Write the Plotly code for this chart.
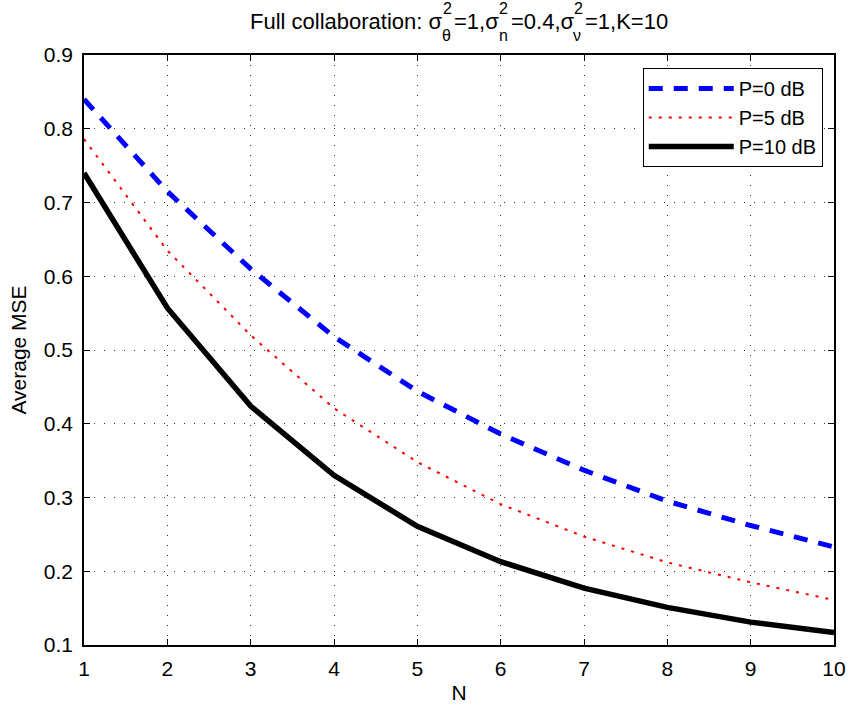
import plotly.graph_objects as go

# Number of sensors N and average MSE for each transmit power
n_values = [1, 2, 3, 4, 5, 6, 7, 8, 9, 10]
mse_p0 = [0.840, 0.715, 0.610, 0.518, 0.444, 0.386, 0.337, 0.295, 0.262, 0.233]
mse_p5 = [0.786, 0.635, 0.520, 0.421, 0.348, 0.291, 0.247, 0.212, 0.185, 0.161]
mse_p10 = [0.740, 0.557, 0.424, 0.330, 0.261, 0.213, 0.177, 0.151, 0.131, 0.117]

x_ticks = [1, 2, 3, 4, 5, 6, 7, 8, 9, 10]
y_ticks = [0.1, 0.2, 0.3, 0.4, 0.5, 0.6, 0.7, 0.8, 0.9]

FONT = "Liberation Sans, Arial, Helvetica, sans-serif"
W, H = 848, 708
ML, MR, MT, MB = 84, 14, 55, 63
PW, PH = W - ML - MR, H - MT - MB

fig = go.Figure()
fig.add_trace(go.Scatter(x=n_values, y=mse_p0, mode="lines", name="P=0 dB",
                         line=dict(color="#0000ff", width=5, dash="14px,11px")))
fig.add_trace(go.Scatter(x=n_values, y=mse_p5, mode="lines", name="P=5 dB",
                         line=dict(color="#ff0000", width=2, dash="3px,7px")))
fig.add_trace(go.Scatter(x=n_values, y=mse_p10, mode="lines", name="P=10 dB",
                         line=dict(color="#000000", width=5.5)))

axis_common = dict(
    showline=True, linecolor="black", linewidth=1.5, mirror="ticks",
    ticks="inside", ticklen=6, tickcolor="black",
    showgrid=True, gridcolor="#333333", gridwidth=1, griddash="1px,9px",
    zeroline=False, automargin=False,
    tickfont=dict(family=FONT, size=21, color="black"),
)

fig.update_xaxes(range=[1, 10], tickvals=x_ticks, ticklabelstandoff=4, **axis_common,
                 title=dict(text="N", font=dict(family=FONT, size=21, color="black"),
                            standoff=6))
fig.update_yaxes(range=[0.1, 0.9], tickvals=y_ticks, tickformat=".1f",
                 ticklabelstandoff=5, **axis_common,
                 title=dict(text="Average MSE", font=dict(family=FONT, size=21, color="black"),
                            standoff=11))


# Title built from text runs with stacked superscript/subscript pairs (σ²_θ style)
def px_x(p):
    return (p - ML) / PW


def px_y(p):
    return (H - MB - p) / PH


MAIN_SIZE, SCRIPT_SIZE = 22, 16
# Arial/Liberation Sans advance widths (em) for each run
main_runs = [("Full collaboration: σ", 8.714), ("=1,σ", 2.018),
             ("=0.4,σ", 2.852), ("=1,K=10", 3.781)]
scripts = [("2", "θ"), ("2", "n"), ("2", "ν")]
SCRIPT_COL = 12  # horizontal room taken by a stacked script pair

total = sum(w for _, w in main_runs) * MAIN_SIZE + SCRIPT_COL * len(scripts)
cursor = 458.5 - total / 2
annotations = []


def add_text(text, x0, yc, size):
    annotations.append(dict(
        text=text, xref="paper", yref="paper", x=px_x(x0), y=px_y(yc),
        xanchor="left", yanchor="middle", showarrow=False, borderpad=0,
        font=dict(family=FONT, size=size, color="black"),
    ))


for i, (text, em) in enumerate(main_runs):
    add_text(text, cursor, 21, MAIN_SIZE)
    cursor += em * MAIN_SIZE
    if i < len(scripts):
        sup, sub = scripts[i]
        add_text(sup, cursor + 0.5, 9, SCRIPT_SIZE)
        add_text(sub, cursor, 35, SCRIPT_SIZE)
        cursor += SCRIPT_COL

fig.update_layout(
    width=W, height=H,
    margin=dict(l=ML, r=MR, t=MT, b=MB),
    plot_bgcolor="white", paper_bgcolor="white",
    annotations=annotations,
    legend=dict(
        x=0.985, xanchor="right", y=0.978, yanchor="top",
        bgcolor="white", bordercolor="black", borderwidth=1,
        font=dict(family=FONT, size=20, color="black"),
        itemwidth=85, tracegroupgap=0,
    ),
    showlegend=True,
)

fig.write_html("out.html")
